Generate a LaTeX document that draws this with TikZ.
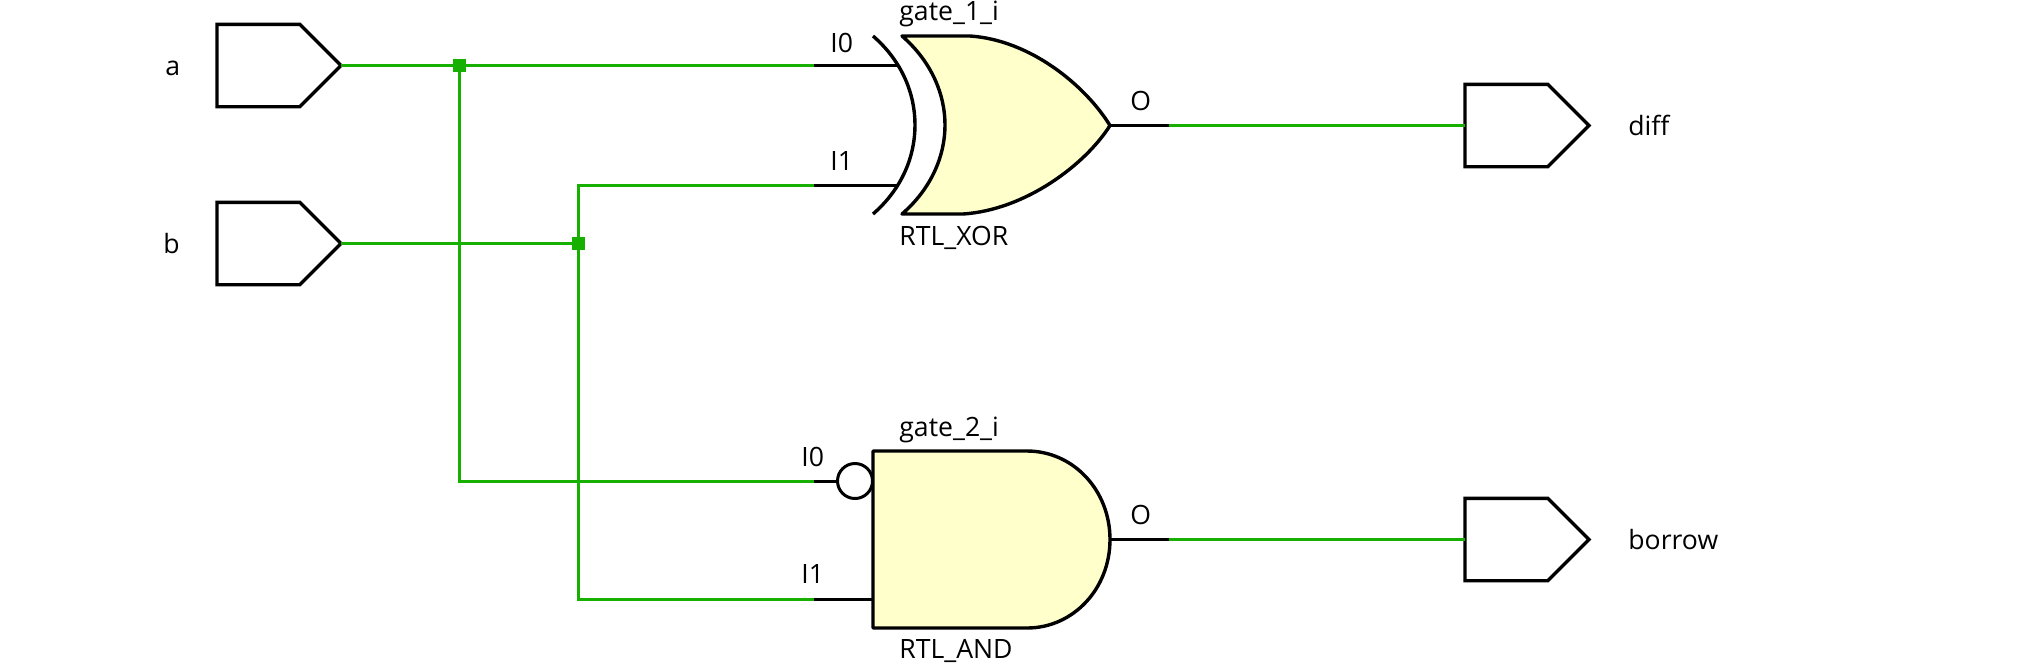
\documentclass[tikz,border=0pt]{standalone}
\usepackage{fontspec}
\setmainfont{Open Sans}
\usetikzlibrary{positioning,shapes.symbols}
\definecolor{netgreen}{HTML}{17B000}
\definecolor{gatefill}{HTML}{FFFFCC}
\def\portwidth{62pt}
\def\portheight{41.2pt}
\tikzstyle{wire}=[draw=netgreen,line width=1.5pt]
\tikzstyle{pin}=[draw=black,line width=1.5pt]
\tikzstyle{gate}=[draw=black,line width=1.7pt,line join=round,fill=gatefill]
\tikzstyle{junction}=[fill=netgreen,inner sep=0pt,outer sep=0pt,minimum size=6.5pt]
\tikzstyle{port}=[shape=signal,signal to=east,signal from=nowhere,signal pointer angle=90,
    draw=black,line width=1.7pt,inner sep=0pt,outer sep=0pt,anchor=west,
    minimum width=\portwidth,minimum height=\portheight]
\tikzstyle{label}=[anchor=base west,inner sep=0pt,font=\fontsize{13.3pt}{15pt}\selectfont]
\begin{document}
\begin{tikzpicture}[x=0.5pt,y=-0.5pt]
    \useasboundingbox (0,0) rectangle (2024,666);
    % ports
    \node[port] (a) at (217,65.5) {};
    \node[port] (b) at (217,243.5) {};
    \node[port] (diff) at (1465,125.5) {};
    \node[port] (borrow) at (1465,539.5) {};
    \node[label] (a_name) at (165,75) {a};
    \node[label] (b_name) at (163,253) {b};
    \node[label] (diff_name) at (1628,135) {diff};
    \node[label] (borrow_name) at (1628,549) {borrow};
    % gate_1_i
    \draw[gate] (902,36) -- (970,36) .. controls (1030,40) and (1085,85) .. (1110,125.5)
        .. controls (1085,165) and (1025,210) .. (963,214) -- (902,214)
        .. controls (932,188) and (945,155) .. (945,125)
        .. controls (945,95) and (932,62) .. cycle;
    \draw[gate,fill=none] (873,36) .. controls (903,62) and (915,95) .. (915,125)
        .. controls (915,155) and (903,188) .. (873,214);
    \coordinate (x_i0) at (897,65.5);
    \coordinate (x_i1) at (897,185);
    \coordinate (x_o) at (1110,125.5);
    \coordinate (x_i0w) at (814,65.5);
    \coordinate (x_i1w) at (814,185);
    \coordinate (x_ow) at (1169,125.5);
    \draw[pin] (x_i0w) -- (x_i0);
    \draw[pin] (x_i1w) -- (x_i1);
    \draw[pin] (x_o) -- (x_ow);
    \node[label] (x_name) at (899,20) {gate\_1\_i};
    \node[label] (x_type) at (899,245) {RTL\_XOR};
    \node[label] (x_i0l) at (830,52) {I0};
    \node[label] (x_i1l) at (830,170) {I1};
    \node[label] (x_ol) at (1130,110) {O};
    % gate_2_i
    \draw[gate] (873,451) -- (1027,451) .. controls (1073,451) and (1110,490) .. (1110,539.5)
        .. controls (1110,589) and (1073,628) .. (1027,628) -- (873,628) -- cycle;
    \node[draw=black,line width=1.5pt,circle,inner sep=0pt,outer sep=0pt,minimum size=17.5pt] (bubble) at (855,481) {};
    \coordinate (n_i0w) at (814,481);
    \coordinate (n_i1w) at (814,599);
    \coordinate (n_i1) at (873,599);
    \coordinate (n_o) at (1110,539.5);
    \coordinate (n_ow) at (1169,539.5);
    \draw[pin] (n_i0w) -- (bubble);
    \draw[pin] (n_i1w) -- (n_i1);
    \draw[pin] (n_o) -- (n_ow);
    \node[label] (n_name) at (899,436) {gate\_2\_i};
    \node[label] (n_type) at (899,658) {RTL\_AND};
    \node[label] (n_i0l) at (801,466) {I0};
    \node[label] (n_i1l) at (801,583) {I1};
    \node[label] (n_ol) at (1130,524) {O};
    % nets
    \node[junction] (ja) at (459,65.5) {};
    \node[junction] (jb) at (578,243.5) {};
    \draw[wire] (a.east) -- (ja);
    \draw[wire] (ja) -- (x_i0w);
    \draw[wire] (b.east) -- (jb);
    \draw[wire] (jb) |- (x_i1w);
    \draw[wire] (ja) |- (n_i0w);
    \draw[wire] (jb) |- (n_i1w);
    \draw[wire] (x_ow) -- (diff.west);
    \draw[wire] (n_ow) -- (borrow.west);
\end{tikzpicture}
\end{document}
